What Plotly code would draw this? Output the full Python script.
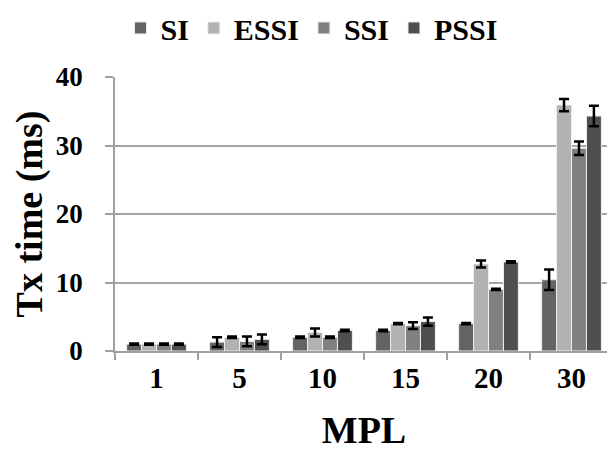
import plotly.graph_objects as go

categories = ["1", "5", "10", "15", "20", "30"]
series_names = ["SI", "ESSI", "SSI", "PSSI"]
si_vals = [1.0, 1.3, 2.0, 3.0, 4.0, 10.4]
essi_vals = [1.0, 2.0, 2.7, 4.0, 12.7, 35.9]
ssi_vals = [1.0, 1.4, 2.0, 3.7, 9.0, 29.6]
pssi_vals = [1.0, 1.7, 3.0, 4.3, 13.0, 34.3]
si_err = [0.1, 0.7, 0.1, 0.1, 0.1, 1.5]
essi_err = [0.1, 0.1, 0.6, 0.1, 0.5, 0.9]
ssi_err = [0.1, 0.7, 0.1, 0.5, 0.1, 1.0]
pssi_err = [0.1, 0.7, 0.1, 0.6, 0.1, 1.5]
y_ticks = [0, 10, 20, 30, 40]
colors = ["#636363", "#b2b2b2", "#808080", "#4f4f4f"]

values = [si_vals, essi_vals, ssi_vals, pssi_vals]
errors = [si_err, essi_err, ssi_err, pssi_err]

font_family = "Liberation Serif, Times New Roman, serif"

fig = go.Figure()
for name, vals, errs, col in zip(series_names, values, errors, colors):
    fig.add_trace(go.Bar(
        name="<b>" + name + "</b>", x=categories, y=vals,
        marker=dict(color=col, line=dict(color="#eeeeee", width=1)),
        error_y=dict(type="data", array=errs, visible=True,
                     color="black", thickness=2.5, width=5),
    ))

# page body has an 8px margin, so the figure is slightly smaller than the window
fig.update_layout(
    width=607, height=443,
    barmode="group", bargap=0.28, bargroupgap=0.0,
    paper_bgcolor="white", plot_bgcolor="white",
    margin=dict(l=107, r=2, t=69, b=100, autoexpand=False),
    font=dict(family=font_family, color="black", size=28),
    legend=dict(orientation="h", x=0.50, xanchor="center", xref="container",
                y=0.955, yanchor="middle", yref="container",
                font=dict(size=30, family=font_family),
                itemwidth=30, traceorder="normal"),
    showlegend=True,
)

fig.update_xaxes(
    type="category", tickson="boundaries", ticks="outside", ticklen=7,
    tickcolor="#a0a0a0", tickwidth=1.5,
    showline=True, linecolor="#a0a0a0", linewidth=1.5,
    showgrid=False, automargin=False,
    tickmode="array", tickvals=categories,
    ticktext=["<b>" + c + "</b>" for c in categories],
    tickfont=dict(size=29, family=font_family),
    title=dict(text="<b>MPL</b>", font=dict(size=38, family=font_family), standoff=26),
)
fig.update_yaxes(
    range=[0, 40], tickmode="array", tickvals=y_ticks,
    ticktext=["<b>" + str(t) + "</b>" for t in y_ticks],
    ticks="outside", ticklen=8,
    tickcolor="#a0a0a0", tickwidth=1.5,
    showline=True, linecolor="#a0a0a0", linewidth=1.5,
    showgrid=True, gridcolor="#a6a6a6", gridwidth=1.5, zeroline=False,
    automargin=False,
    tickfont=dict(size=27, family=font_family),
    ticklabelstandoff=17,
    title=dict(text="<b>Tx time (ms)</b>", font=dict(size=38, family=font_family), standoff=20),
)

fig.write_html("out.html")
